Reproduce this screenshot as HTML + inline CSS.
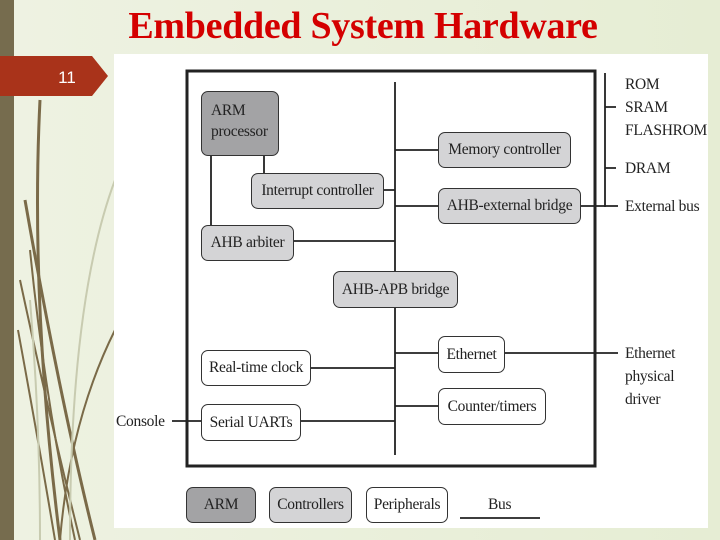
<!DOCTYPE html>
<html><head><meta charset="utf-8"><style>
body{margin:0;width:720px;height:540px;overflow:hidden;background:linear-gradient(90deg,#eef2e2,#e6edd4);position:relative;font-family:"Liberation Serif",serif}
.t{position:absolute;left:0;top:4px;width:726px;text-align:center;color:#d40000;font-weight:bold;font-size:38px;letter-spacing:-0.3px}
.b{position:absolute;box-sizing:border-box;border:1.5px solid #333;border-radius:7px;font-size:15.5px;color:#222;display:flex;align-items:center;justify-content:center;white-space:nowrap;letter-spacing:-0.3px}
.d{background:#a3a3a5}.l{background:#d4d4d6}.w{background:#fff}
.x{position:absolute;font-size:15.5px;color:#222;line-height:23px;letter-spacing:-0.3px}
</style></head><body>
<svg width="720" height="540" style="position:absolute;left:0;top:0">
<rect x="0" y="0" width="14" height="540" fill="#766c4e"/>
<g fill="none" stroke="#7a6a48" stroke-width="3">
<path d="M40 100 Q30 300 60 540"/><path d="M25 200 Q60 400 95 540"/><path d="M115 330 Q70 420 60 540" stroke-width="2"/>
<path d="M20 280 Q50 420 80 540" stroke-width="2"/><path d="M30 250 Q45 400 75 540" stroke-width="2"/><path d="M18 330 Q40 450 55 540" stroke-width="2"/></g>
<g fill="none" stroke="#c8cbb0" stroke-width="2"><path d="M115 180 Q70 300 70 540"/><path d="M30 300 Q40 420 40 540"/></g>
<polygon points="0,56 92,56 108,76 92,96 0,96" fill="#a9331a"/>
<text x="67" y="83" fill="#fff" font-family="Liberation Sans" font-size="17" text-anchor="middle">11</text>
<rect x="114" y="54" width="594" height="474" fill="#fff"/>
<rect x="187" y="71" width="408" height="395" fill="none" stroke="#222" stroke-width="3"/>
<g stroke="#222" stroke-width="1.8" fill="none">
<path d="M395 82V271M395 307V455"/>
<path d="M605 73V207M605 107H616M605 168H616"/>
<path d="M211 155V225M264 155V173M383 190H395M293 241H395"/>
<path d="M395 150H438M395 206H438M580 206H618M395 353H438M504 353H618M395 406H438"/>
<path d="M310 368H395M300 421H395M172 421H201"/>
<path d="M460 518H540"/>
</g></svg>
<div class="t">Embedded System Hardware</div>
<div class="b d" style="left:201px;top:91px;width:78px;height:65px;justify-content:flex-start;align-items:flex-start;padding:8px 0 0 9px;line-height:21px;white-space:normal">ARM<br>processor</div>
<div class="b l" style="left:251px;top:173px;width:133px;height:36px">Interrupt controller</div>
<div class="b l" style="left:201px;top:225px;width:93px;height:36px">AHB arbiter</div>
<div class="b l" style="left:438px;top:132px;width:133px;height:36px">Memory controller</div>
<div class="b l" style="left:438px;top:188px;width:143px;height:36px">AHB-external bridge</div>
<div class="b l" style="left:333px;top:271px;width:125px;height:37px">AHB-APB bridge</div>
<div class="b w" style="left:201px;top:350px;width:110px;height:36px">Real-time clock</div>
<div class="b w" style="left:201px;top:404px;width:100px;height:37px">Serial UARTs</div>
<div class="b w" style="left:438px;top:336px;width:67px;height:37px">Ethernet</div>
<div class="b w" style="left:438px;top:388px;width:108px;height:37px">Counter/timers</div>
<div class="b d" style="left:186px;top:487px;width:70px;height:36px">ARM</div>
<div class="b l" style="left:269px;top:487px;width:83px;height:36px">Controllers</div>
<div class="b w" style="left:366px;top:487px;width:82px;height:36px">Peripherals</div>
<div class="x" style="left:488px;top:493px">Bus</div>
<div class="x" style="left:625px;top:73px">ROM<br>SRAM<br>FLASHROM</div>
<div class="x" style="left:625px;top:157px">DRAM</div>
<div class="x" style="left:625px;top:195px">External bus</div>
<div class="x" style="left:625px;top:342px">Ethernet<br>physical<br>driver</div>
<div class="x" style="left:116px;top:410px">Console</div>
</body></html>
